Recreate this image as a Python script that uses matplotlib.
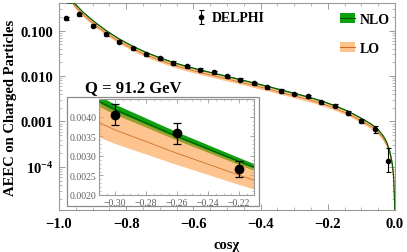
import matplotlib
matplotlib.use("Agg")
import matplotlib.pyplot as plt
import numpy as np
from matplotlib.patches import Patch, Rectangle
from matplotlib.lines import Line2D
from matplotlib.ticker import (FixedLocator, FuncFormatter, LogLocator,
                               MultipleLocator, NullFormatter, FormatStrFormatter)

plt.rcParams['font.family'] = ['Liberation Serif', 'DejaVu Serif']
plt.rcParams['mathtext.fontset'] = 'custom'
plt.rcParams['mathtext.rm'] = 'Liberation Serif'
plt.rcParams['mathtext.bf'] = 'Liberation Serif:bold'

# theory curves
cos_th = [-0.975, -0.965, -0.955, -0.945, -0.93, -0.91, -0.89, -0.86, -0.82, -0.78,
          -0.74, -0.70, -0.66, -0.62, -0.58, -0.54, -0.50, -0.46, -0.42, -0.38,
          -0.34, -0.30, -0.26, -0.22, -0.18, -0.14, -0.10, -0.07, -0.05, -0.035,
          -0.025, -0.015, -0.008, -0.004, -0.001, -0.0002]
nlo = [0.79, 0.55, 0.42, 0.343, 0.263, 0.195, 0.148, 0.101, 0.0653, 0.0452,
       0.0331, 0.0254, 0.0200, 0.0164, 0.01374, 0.01164, 0.00989, 0.00838, 0.00708, 0.00597,
       0.00501, 0.00419, 0.00350, 0.00286, 0.00225, 0.00169, 0.001175, 0.00087, 0.00066, 0.00048,
       0.000355, 0.000214, 0.000118, 0.000060, 0.000015, 0.000003]
nlo_hi = [0.814, 0.567, 0.433, 0.353, 0.271, 0.201, 0.152, 0.104, 0.0673, 0.0466,
          0.0341, 0.0262, 0.0206, 0.0169, 0.01415, 0.01199, 0.01019, 0.00863, 0.00729, 0.00615,
          0.00516, 0.00432, 0.00361, 0.00295, 0.00232, 0.00174, 0.00121, 0.000896, 0.00068, 0.000494,
          0.000366, 0.00022, 0.000122, 0.0000618, 0.0000155, 0.0000031]
nlo_lo = [0.766, 0.534, 0.407, 0.333, 0.255, 0.189, 0.144, 0.098, 0.0633, 0.0438,
          0.0321, 0.0246, 0.0194, 0.0159, 0.01333, 0.01129, 0.00959, 0.00813, 0.00687, 0.00579,
          0.00486, 0.00406, 0.00340, 0.00277, 0.00218, 0.00164, 0.00114, 0.000844, 0.00064, 0.000466,
          0.000344, 0.000208, 0.000114, 0.0000582, 0.0000146, 0.0000029]
lo = [0.693, 0.482, 0.368, 0.301, 0.231, 0.171, 0.130, 0.0886, 0.0573, 0.0396,
      0.0290, 0.0223, 0.0175, 0.0144, 0.01205, 0.01021, 0.00867, 0.00735, 0.00621, 0.00524,
      0.00439, 0.00367, 0.00307, 0.00251, 0.00197, 0.00148, 0.00103, 0.000763, 0.000579, 0.000421,
      0.000311, 0.000188, 0.000103, 0.0000526, 0.0000132, 0.0000026]
lo_hi = [0.782, 0.545, 0.416, 0.340, 0.260, 0.193, 0.147, 0.100, 0.0646, 0.0447,
         0.0328, 0.0251, 0.0198, 0.0162, 0.0136, 0.01152, 0.00979, 0.0083, 0.00701, 0.00591,
         0.00496, 0.00415, 0.00347, 0.00283, 0.00223, 0.00167, 0.00116, 0.000861, 0.000653, 0.000475,
         0.000351, 0.000212, 0.000117, 0.0000594, 0.0000149, 0.000003]
lo_lo = [0.624, 0.435, 0.332, 0.271, 0.208, 0.154, 0.117, 0.0798, 0.0516, 0.0357,
         0.0261, 0.0201, 0.0158, 0.013, 0.01085, 0.0092, 0.00781, 0.00662, 0.00559, 0.00472,
         0.00396, 0.00331, 0.00277, 0.00226, 0.00178, 0.00134, 0.000928, 0.000687, 0.000521, 0.000379,
         0.00028, 0.000169, 0.0000932, 0.0000474, 0.0000119, 0.0000024]

# DELPHI data
cos_data = [-0.98, -0.94, -0.90, -0.86, -0.82, -0.78, -0.74, -0.70, -0.66, -0.62,
            -0.58, -0.54, -0.50, -0.46, -0.42, -0.38, -0.34, -0.30, -0.26, -0.22,
            -0.18, -0.14, -0.10, -0.06, -0.02]
aeec = [0.190, 0.233, 0.129, 0.0846, 0.0573, 0.0409, 0.0307, 0.0247, 0.0195, 0.0164,
        0.0138, 0.0121, 0.0099, 0.0083, 0.0070, 0.00566, 0.0047, 0.00406, 0.00358, 0.00267,
        0.00223, 0.00154, 0.00104, 0.00068, 0.000137]
err_lo = [0.014, 0.017, 0.010, 0.0065, 0.0044, 0.0031, 0.0024, 0.0019, 0.0015, 0.0013,
          0.0011, 0.0009, 0.0008, 0.00065, 0.00055, 0.00045, 0.00037, 0.00027, 0.00027, 0.00021,
          0.00018, 0.00013, 0.00011, 0.00011, 0.000059]
err_hi = [0.014, 0.017, 0.010, 0.0065, 0.0044, 0.0031, 0.0024, 0.0019, 0.0015, 0.0013,
          0.0011, 0.0009, 0.0008, 0.00065, 0.00055, 0.00045, 0.00037, 0.00027, 0.00027, 0.00021,
          0.00018, 0.00013, 0.00011, 0.00013, 0.000129]

ylim_main = (1.12e-5, 0.407)
green = '#0fa00f'
green_line = '#005800'
orange = '#fc9e44'
orange_line = '#cf6f28'
frame_col = '#9a9a9a'


def draw_theory(ax, clip_top=None):
    ax.fill_between(cos_th, nlo_lo, nlo_hi, color=green, lw=0, zorder=1)
    ax.fill_between(cos_th, lo_lo, lo_hi, color=orange, alpha=0.6, lw=0, zorder=2)
    ax.plot(cos_th, lo, color=orange_line, lw=0.6, zorder=3)
    y = nlo if clip_top is None else np.minimum(nlo, clip_top)
    ax.plot(cos_th, y, color=green_line, lw=0.8, zorder=3)


def style_frame(ax):
    for s in ax.spines.values():
        s.set_color(frame_col)
        s.set_linewidth(0.8)
    ax.tick_params(which='both', direction='in', top=True, right=True, color=frame_col)


fig = plt.figure(figsize=(4.07, 2.53), dpi=100)
ax = fig.add_axes([0.145, 0.166, 0.8255, 0.818])
ax.set_yscale('log')
draw_theory(ax, clip_top=ylim_main[1] * 0.995)
eb = ax.errorbar(cos_data, aeec, yerr=[err_lo, err_hi], fmt='o', color='black',
                 ms=3, capsize=1.8, elinewidth=0.8, capthick=0.8, zorder=5)
ax.set_xlim(-1.0, 0.0)
ax.set_ylim(*ylim_main)
style_frame(ax)
ax.tick_params(which='major', length=4, width=0.7)
ax.tick_params(which='minor', length=2, width=0.5)
ax.xaxis.set_major_locator(MultipleLocator(0.2))
ax.xaxis.set_minor_locator(MultipleLocator(0.05))
ax.xaxis.set_major_formatter(FuncFormatter(lambda v, p: f"{v:.1f}".replace('-', '\u2212')))
ax.yaxis.set_major_locator(FixedLocator([1e-4, 1e-3, 1e-2, 1e-1]))
ax.yaxis.set_minor_locator(LogLocator(base=10, subs=np.arange(2, 10)))
ax.yaxis.set_minor_formatter(NullFormatter())
ylabels = {1e-4: r'$\mathbf{10^{-4}}$', 1e-3: '0.001', 1e-2: '0.010', 1e-1: '0.100'}
ax.yaxis.set_major_formatter(FuncFormatter(
    lambda v, p: min(ylabels.items(), key=lambda kv: abs(np.log10(kv[0]) - np.log10(v)))[1]))
for lab in ax.get_xticklabels() + ax.get_yticklabels():
    lab.set_fontweight('bold')
    lab.set_fontsize(10.5)
ax.tick_params(axis='x', pad=5)
ax.tick_params(axis='y', pad=4)
ax.set_xlabel('cos\u03c7', fontsize=10.5, fontweight='bold', labelpad=6)
ax.set_ylabel('AEEC on Charged Particles', fontsize=10.5, fontweight='bold', labelpad=3)

ax.text(0.077, 0.595, 'Q = 91.2 GeV', transform=ax.transAxes, fontsize=12,
        fontweight='bold', va='center', ha='left')

leg1 = ax.legend([eb], ['DELPHI'], loc='center left', bbox_to_anchor=(0.385, 0.928),
                 frameon=False, handlelength=0.8, handletextpad=0.4, borderpad=0,
                 prop={'weight': 'bold', 'size': 10})
ax.add_artist(leg1)
h_nlo = (Patch(facecolor=green, edgecolor='none'), Line2D([], [], color=green_line, lw=0.8))
h_lo = (Patch(facecolor=orange, alpha=0.6, edgecolor='none'), Line2D([], [], color=orange_line, lw=0.8))
ax.legend([h_nlo, h_lo], ['NLO', 'LO'], loc='upper left', bbox_to_anchor=(0.815, 0.985),
          frameon=False, handlelength=1.1, handletextpad=0.35, borderpad=0,
          labelspacing=1.15, prop={'weight': 'bold', 'size': 10})

# inset box
box = Rectangle((0.1646, 0.1818), 0.4717, 0.4308, transform=fig.transFigure,
                facecolor='white', edgecolor='#8c8c8c', lw=0.9, zorder=3)
fig.add_artist(box)
axi = fig.add_axes([0.2432, 0.2253, 0.381, 0.3794], zorder=4)
draw_theory(axi)
axi.errorbar(cos_data, aeec, yerr=[err_lo, err_hi], fmt='o', color='black',
             ms=6, capsize=3, elinewidth=0.9, capthick=0.9, zorder=5)
axi.set_xlim(-0.3103, -0.2103)
axi.set_ylim(0.0020, 0.00446)
style_frame(axi)
axi.tick_params(which='major', length=3, width=0.6, labelsize=7, labelcolor='#606060', pad=2)
axi.tick_params(which='minor', length=1.5, width=0.4)
axi.xaxis.set_major_locator(MultipleLocator(0.02))
axi.xaxis.set_minor_locator(MultipleLocator(0.005))
axi.yaxis.set_major_locator(MultipleLocator(0.0005))
axi.yaxis.set_minor_locator(MultipleLocator(0.0001))
axi.xaxis.set_major_formatter(FuncFormatter(lambda v, p: f"{v:.2f}".replace('-', '\u2212')))
axi.yaxis.set_major_formatter(FormatStrFormatter('%.4f'))

fig.savefig('out.png', dpi=100)
